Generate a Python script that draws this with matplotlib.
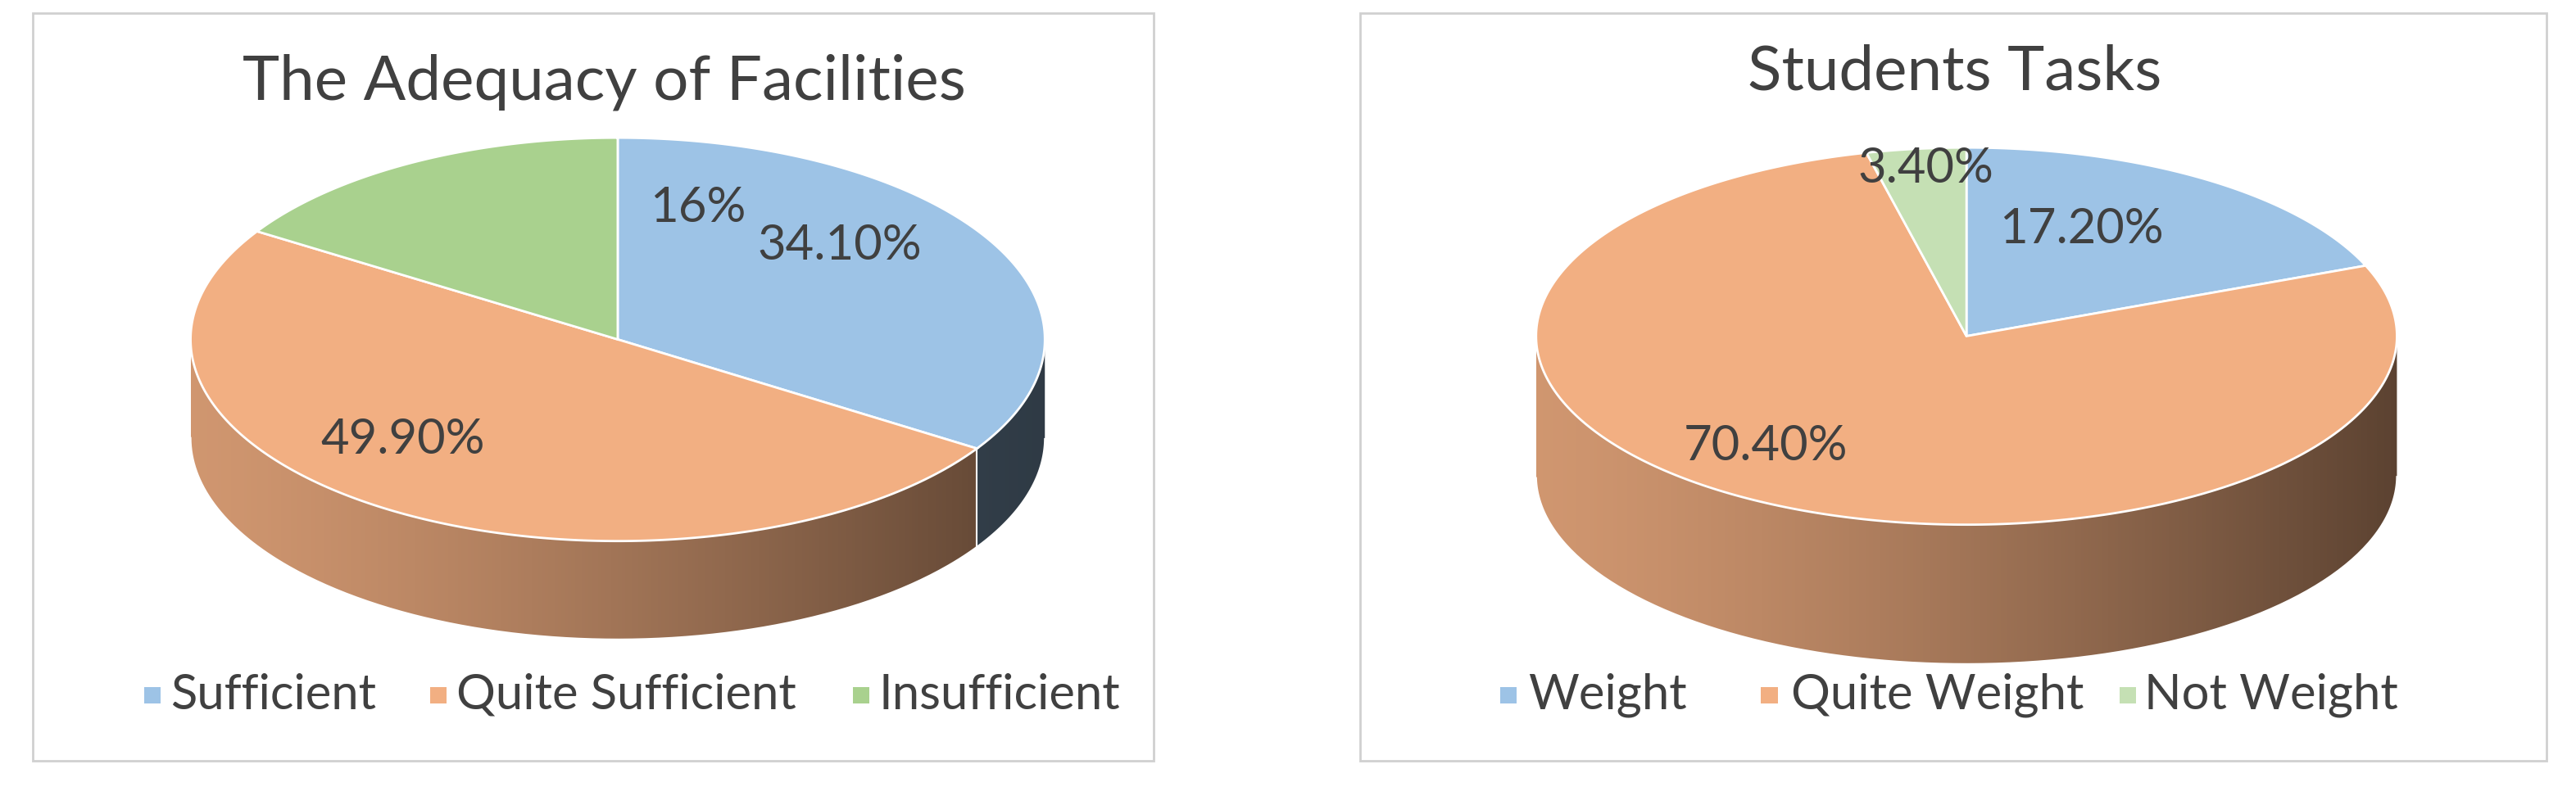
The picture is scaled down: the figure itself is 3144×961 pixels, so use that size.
import numpy as np
import matplotlib.pyplot as plt
from matplotlib.patches import Polygon, Rectangle
from matplotlib.colors import to_rgb

plt.rcParams['font.family'] = ['Lato', 'DejaVu Sans']

# data
left_title = "The Adequacy of Facilities"
left_labels = ["Sufficient", "Quite Sufficient", "Insufficient"]
left_values = [34.1, 49.9, 16.0]
left_texts = ["34.10%", "49.90%", "16%"]
left_colors = ["#9DC3E6", "#F2AF82", "#A9D18E"]

right_title = "Students Tasks"
right_labels = ["Weight", "Quite Weight", "Not Weight"]
right_values = [17.2, 70.4, 3.4]
right_texts = ["17.20%", "70.40%", "3.40%"]
right_colors = ["#9DC3E6", "#F2AF82", "#C5E0B4"]

TXT = "#404040"

fig = plt.figure(figsize=(31.44, 9.61), dpi=100)
ax = fig.add_axes([0, 0, 1, 1])
ax.set_xlim(0, 1568)
ax.set_ylim(480, 0)
ax.axis('off')


def pie3d(cx, cy, rx, ry, depth, values, colors, texts, label_pos):
    total = sum(values)
    start = 90.0
    angles = []
    for v in values:
        a0 = start
        a1 = start - 360.0 * v / total
        angles.append((a0, a1))
        start = a1
    # sides (front half only)
    for (a0, a1), col in zip(angles, colors):
        th = np.radians(np.linspace(a1, a0, 300))
        front = np.sin(th) < 0
        if not front.any():
            continue
        t = th[front]
        xs = cx + rx * np.cos(t)
        ys = cy - ry * np.sin(t)
        pts = np.vstack([np.column_stack([xs, ys]),
                         np.column_stack([xs[::-1], ys[::-1] + depth])])
        poly = Polygon(pts, closed=True, facecolor='none', edgecolor='none')
        ax.add_patch(poly)
        base = np.array(to_rgb(col))
        light = base * 0.86
        dark = base * 0.38
        if col == "#9DC3E6":
            light, dark = base * 0.45, base * 0.3
        g = np.linspace(0, 1, 256)[None, :, None]
        img = light + (dark - light) * g ** 1.3
        im = ax.imshow(img, extent=[cx - rx, cx + rx, cy + ry + depth, cy - ry],
                       aspect='auto', zorder=1)
        im.set_clip_path(poly)
        ax.plot(xs, ys + depth, color='white', lw=1.5, zorder=2)
    for a0, a1 in angles:
        if np.sin(np.radians(a0)) < 0:
            x = cx + rx * np.cos(np.radians(a0))
            y = cy - ry * np.sin(np.radians(a0))
            ax.plot([x, x], [y, y + depth], color='white', lw=1.5, zorder=2)
    # top faces
    for (a0, a1), col in zip(angles, colors):
        th = np.radians(np.linspace(a0, a1, 300))
        pts = np.column_stack([cx + rx * np.cos(th), cy - ry * np.sin(th)])
        pts = np.vstack([[cx, cy], pts])
        ax.add_patch(Polygon(pts, closed=True, facecolor=col, edgecolor='white',
                             lw=2, zorder=3))
    for txt, (x, y) in zip(texts, label_pos):
        ax.text(x, y, txt, fontsize=43, color=TXT, ha='center', va='center', zorder=4)


# boxes
ax.add_patch(Rectangle((20, 8), 682, 456, facecolor='white', edgecolor='#D0D0D0', lw=2, zorder=0))
ax.add_patch(Rectangle((828, 8), 722, 456, facecolor='white', edgecolor='#D0D0D0', lw=2, zorder=0))

ax.text(368, 50, left_title, fontsize=55, color=TXT, ha='center', va='center')
ax.text(1190, 44, right_title, fontsize=55, color=TXT, ha='center', va='center')

pie3d(376, 207, 260, 123, 60, left_values, left_colors, left_texts,
      [(511, 150), (245, 268), (425, 127)])
pie3d(1197, 205, 262, 115, 85, right_values, right_colors, right_texts,
      [(1267, 140), (1075, 272), (1172, 103)])

for labels, colors, x0s, tx0s in [
        (left_labels, left_colors, [88, 262, 519], [104, 278, 535]),
        (right_labels, right_colors, [913, 1072, 1290], [930, 1090, 1305])]:
    for lab, col, x0, tx in zip(labels, colors, x0s, tx0s):
        ax.add_patch(Rectangle((x0, 419), 10, 10, facecolor=col, edgecolor='none'))
        ax.text(tx, 424, lab, fontsize=43, color=TXT, ha='left', va='center')

fig.savefig("out.png", dpi=100)
